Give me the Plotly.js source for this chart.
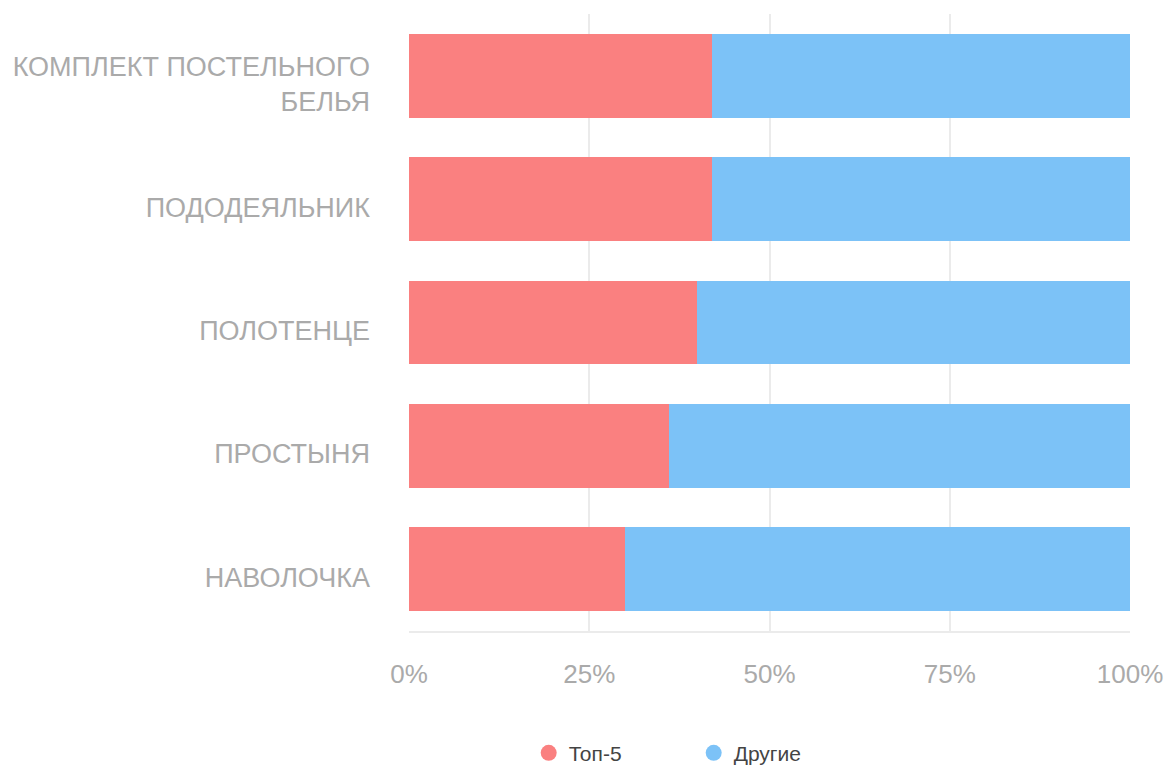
<!DOCTYPE html>
<html>
<head>
<meta charset="utf-8">
<script src="https://cdn.plot.ly/plotly-3.0.1.min.js"></script>
<style>
html,body{margin:0;padding:0;background:#fff;}
#chart{width:1164px;height:767px;}
</style>
</head>
<body>
<div id="chart"></div>
<script>
const categories = [
  "КОМПЛЕКТ ПОСТЕЛЬНОГО<br>БЕЛЬЯ",
  "ПОДОДЕЯЛЬНИК",
  "ПОЛОТЕНЦЕ",
  "ПРОСТЫНЯ",
  "НАВОЛОЧКА"
];
const seriesNames = ["Топ-5", "Другие"];
const top5 = [42, 42, 40, 36, 30];
const others = [58, 58, 60, 64, 70];
const tickValues = [0, 25, 50, 75, 100];
const tickLabels = ["0%", "25%", "50%", "75%", "100%"];

const colors = ["#fa8080", "#7cc2f7"];
const FONT = "'Liberation Sans', Arial, Helvetica, sans-serif";

const traces = [
  {type: "bar", orientation: "h", x: top5, y: categories, name: seriesNames[0],
   marker: {color: colors[0]}, showlegend: false, legendgroup: "a", hoverinfo: "x+y"},
  {type: "bar", orientation: "h", x: others, y: categories, name: seriesNames[1],
   marker: {color: colors[1]}, showlegend: false, legendgroup: "b", hoverinfo: "x+y"},
  {type: "scatter", mode: "markers", x: [null], y: [null], name: seriesNames[0],
   marker: {color: colors[0], size: 20, symbol: "circle"}, legendgroup: "a"},
  {type: "scatter", mode: "markers", x: [null], y: [null], name: seriesNames[1],
   marker: {color: colors[1], size: 20, symbol: "circle"}, legendgroup: "b"}
];

const layout = {
  width: 1164, height: 767,
  margin: {l: 409, r: 34, t: 14, b: 136, autoexpand: false},
  paper_bgcolor: "#fff", plot_bgcolor: "#fff",
  barmode: "stack",
  bargap: 0.32,
  font: {family: FONT, color: "#aaaaaa"},
  xaxis: {
    range: [0, 100], tickvals: tickValues, ticktext: tickLabels,
    showgrid: true, gridcolor: "#ebebeb", gridwidth: 2,
    showline: true, linecolor: "#ebebeb", linewidth: 2,
    zeroline: false, ticks: "", ticklabelstandoff: 19,
    tickfont: {family: FONT, size: 26, color: "#aaaaaa"},
    automargin: false,
    fixedrange: true
  },
  yaxis: {
    categoryorder: "array", categoryarray: categories.slice().reverse(),
    autorange: true,
    showgrid: false, zeroline: false, showline: false, ticks: "",
    ticklabelstandoff: 38, ticklabelshift: 8,
    tickfont: {family: FONT, size: 27, color: "#aaaaaa"},
    automargin: false,
    fixedrange: true
  },
  showlegend: true,
  legend: {
    orientation: "h", x: 0.166, xanchor: "left", y: -0.198, yanchor: "middle",
    font: {family: FONT, size: 21, color: "#444444"},
    entrywidth: 120, entrywidthmode: "pixels", itemclick: false, itemdoubleclick: false
  }
};

Plotly.newPlot("chart", traces, layout, {displayModeBar: false, staticPlot: true});
</script>
</body>
</html>
